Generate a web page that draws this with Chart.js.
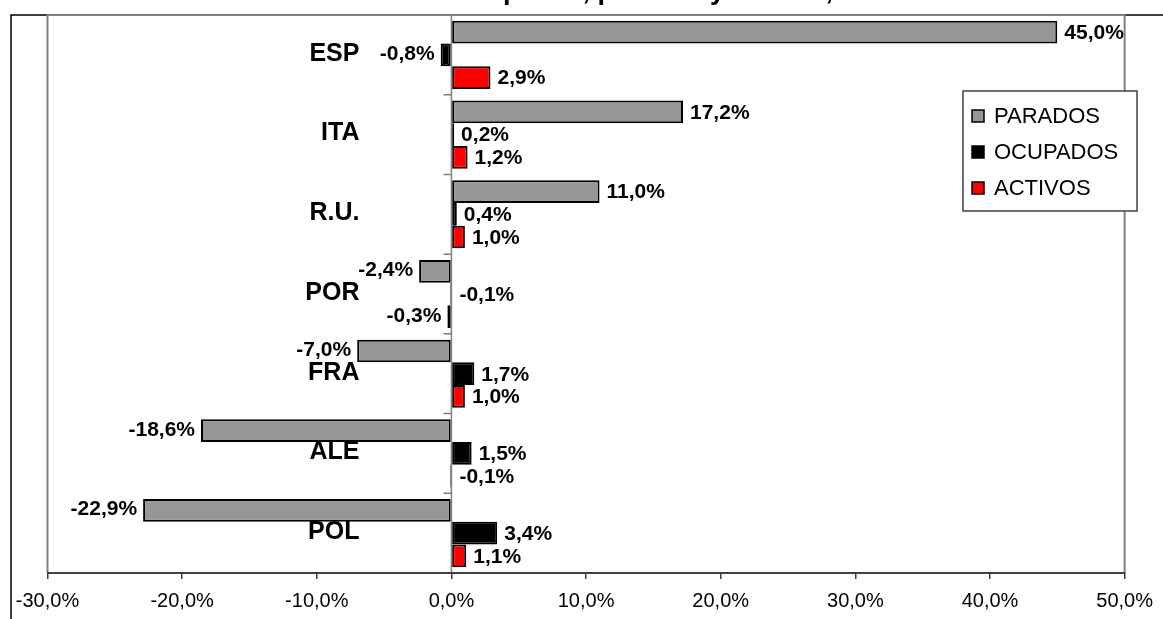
<!DOCTYPE html>
<html>
<head>
<meta charset="utf-8">
<script src="https://cdn.jsdelivr.net/npm/chart.js@4"></script>
<style>
  html, body { margin: 0; padding: 0; background: #fff; }
  canvas { display: block; }
</style>
</head>
<body>
<canvas id="chart" width="1163" height="619"></canvas>
<script>
// datos
const titulo = 'Variación de ocupados, parados y activos, 2009';
const paises = ['ESP', 'ITA', 'R.U.', 'POR', 'FRA', 'ALE', 'POL'];
const series = ['PARADOS', 'OCUPADOS', 'ACTIVOS'];
const parados = [45.0, 17.2, 11.0, -2.4, -7.0, -18.6, -22.9];
const ocupados = [-0.8, 0.2, 0.4, -0.1, 1.7, 1.5, 3.4];
const activos = [2.9, 1.2, 1.0, -0.3, 1.0, -0.1, 1.1];
const ejeMin = -30;
const ejeMax = 50;
const ejePaso = 10;

const colores = ['#969696', '#000000', '#ff0000'];
const FONT = '"Liberation Sans", Arial, sans-serif';

const fmt = v => v.toFixed(1).replace('.', ',') + '%';

// marco, linea del cero, etiquetas y leyenda
const decoracion = {
    id: 'decoracion',
    beforeDraw(chart) {
        const { ctx, chartArea: a } = chart;
        const x = chart.scales.x, y = chart.scales.y;
        ctx.save();
        ctx.fillStyle = '#fff';
        ctx.fillRect(0, 0, chart.width, chart.height);

        // titulo (cortado en la parte superior)
        ctx.fillStyle = '#000';
        ctx.font = 'bold 27px ' + FONT;
        ctx.textBaseline = 'alphabetic';
        ctx.textAlign = 'left';
        const xTitulo = 503 - ctx.measureText('Variación de ocu').width;
        ctx.fillText(titulo, xTitulo, -1.5);

        // marco exterior
        ctx.strokeStyle = '#000';
        ctx.lineWidth = 1.5;
        ctx.beginPath();
        ctx.moveTo(11, chart.height);
        ctx.lineTo(11, 15);
        ctx.lineTo(chart.width, 15);
        ctx.stroke();

        // borde del area de trazado
        ctx.strokeStyle = '#808080';
        ctx.lineWidth = 2;
        ctx.beginPath();
        ctx.moveTo(a.left, a.bottom);
        ctx.lineTo(a.left, a.top);
        ctx.lineTo(a.right, a.top);
        ctx.lineTo(a.right, a.bottom);
        ctx.stroke();

        // eje vertical en el cero
        const x0 = x.getPixelForValue(0);
        ctx.strokeStyle = '#808080';
        ctx.lineWidth = 1.5;
        ctx.beginPath();
        ctx.moveTo(x0, a.top);
        ctx.lineTo(x0, a.bottom);
        for (let i = 0; i < paises.length; i++) {
            const yb = y.getPixelForValue(i + 0.5);
            ctx.moveTo(x0 - 8, yb);
            ctx.lineTo(x0, yb);
        }
        ctx.stroke();
        ctx.restore();
    },
    afterDatasetsDraw(chart) {
        const { ctx } = chart;
        const x = chart.scales.x, y = chart.scales.y;
        const x0 = x.getPixelForValue(0);
        ctx.save();
        ctx.fillStyle = '#000';

        // nombres de paises
        ctx.font = 'bold 25px ' + FONT;
        ctx.textAlign = 'right';
        ctx.textBaseline = 'middle';
        paises.forEach((p, i) => {
            ctx.fillText(p, x0 - 92, y.getPixelForValue(i) - 1);
        });

        // etiquetas de datos
        ctx.font = 'bold 21px ' + FONT;
        chart.data.datasets.forEach((ds, di) => {
            chart.getDatasetMeta(di).data.forEach((bar, i) => {
                const v = ds.data[i];
                const t = fmt(v);
                if (v < 0 && v > -0.2) {
                    ctx.textAlign = 'left';
                    ctx.fillText(t, x0 + 8, bar.y + 1);
                } else if (v < 0) {
                    ctx.textAlign = 'right';
                    ctx.fillText(t, bar.x - 6, bar.y - 1);
                } else {
                    ctx.textAlign = 'left';
                    ctx.fillText(t, bar.x + 7, bar.y + 1);
                }
            });
        });

        // leyenda
        ctx.fillStyle = '#fff';
        ctx.fillRect(963, 91, 174, 120);
        ctx.strokeStyle = '#404040';
        ctx.lineWidth = 1.5;
        ctx.strokeRect(963, 91, 174, 120);
        ctx.font = '22px ' + FONT;
        ctx.textAlign = 'left';
        series.forEach((s, i) => {
            const yc = 116 + i * 36;
            ctx.fillStyle = colores[i];
            ctx.fillRect(972, yc - 6, 12, 12);
            ctx.strokeStyle = '#000';
            ctx.lineWidth = 1.5;
            ctx.strokeRect(972, yc - 6, 12, 12);
            ctx.fillStyle = '#000';
            ctx.fillText(s, 994, yc + 1);
        });
        ctx.restore();
    }
};

const ctx = document.getElementById('chart').getContext('2d');
new Chart(ctx, {
    type: 'bar',
    data: {
        labels: paises,
        datasets: [
            { label: series[0], data: parados, backgroundColor: colores[0] },
            { label: series[1], data: ocupados, backgroundColor: colores[1] },
            { label: series[2], data: activos, backgroundColor: colores[2] }
        ]
    },
    options: {
        indexAxis: 'y',
        responsive: false,
        animation: false,
        devicePixelRatio: 1,
        layout: { padding: { left: 47.5, right: 34, top: 15, bottom: -4 } },
        datasets: {
            bar: {
                borderColor: '#000',
                borderWidth: 2,
                borderSkipped: false,
                barPercentage: 1,
                categoryPercentage: 0.855
            }
        },
        plugins: {
            legend: { display: false },
            title: { display: false },
            tooltip: { enabled: false }
        },
        scales: {
            x: {
                min: ejeMin,
                max: ejeMax,
                ticks: {
                    stepSize: ejePaso,
                    color: '#000',
                    padding: 10,
                    maxRotation: 0,
                    font: { family: FONT, size: 20 },
                    callback: v => fmt(v)
                },
                grid: {
                    drawOnChartArea: false,
                    tickLength: 6,
                    color: '#404040',
                    lineWidth: 1.5
                },
                border: { color: '#404040', width: 2 }
            },
            y: {
                display: false
            }
        }
    },
    plugins: [decoracion]
});
</script>
</body>
</html>
